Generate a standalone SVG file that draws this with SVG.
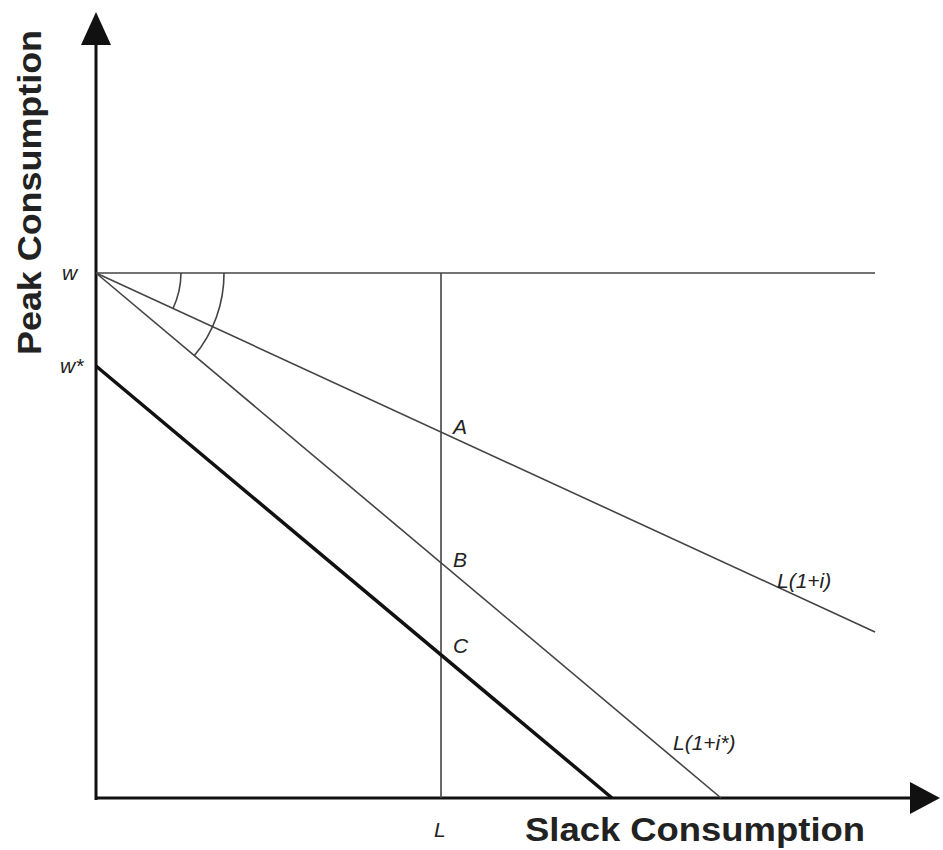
<svg xmlns="http://www.w3.org/2000/svg" width="943" height="850" viewBox="0 0 943 850">
<style>
.ax{stroke:#111;stroke-width:3;fill:none}
.thin{stroke:#444;stroke-width:1.6;fill:none}
.thick{stroke:#111;stroke-width:3.5;fill:none}
.lab{font-family:"Liberation Sans",Arial,sans-serif;font-style:italic;font-size:21px;fill:#222}
.title{font-family:"Liberation Sans",Arial,sans-serif;font-weight:bold;font-size:34px;fill:#222}
</style>
<rect width="943" height="850" fill="#fff"/>
<g id="connectors">
<line class="ax" x1="96" y1="40" x2="96" y2="800"/>
<polygon points="96,12 81,45 111,45" fill="#111"/>
<line class="ax" x1="95" y1="798" x2="912" y2="798"/>
<polygon points="940,798 910,782 910,814" fill="#111"/>
<line class="thin" x1="96" y1="273" x2="875" y2="273"/>
<line class="thin" x1="441" y1="273" x2="441" y2="798"/>
<line class="thin" x1="96" y1="273" x2="875" y2="632"/>
<line class="thin" x1="96" y1="273" x2="721" y2="798"/>
<line class="thick" x1="96" y1="366" x2="612" y2="798"/>
<path class="thin" d="M181,273 A85,85 0 0 1 173,308.5"/>
<path class="thin" d="M224,273 A128,128 0 0 1 194,356"/>
</g>
<g id="labels">
<text class="lab" x="62" y="280" font-size="18">w</text>
<text class="lab" x="60" y="373" font-size="18">w*</text>
<text class="lab" x="453" y="434">A</text>
<text class="lab" x="453" y="567">B</text>
<text class="lab" x="453" y="653">C</text>
<text class="lab" x="777" y="588">L(1+i)</text>
<text class="lab" x="673" y="750">L(1+i*)</text>
<text class="lab" x="434" y="837">L</text>
<text class="title" x="525" y="841" textLength="340" lengthAdjust="spacingAndGlyphs">Slack Consumption</text>
<text class="title" transform="translate(41,355) rotate(-90)" textLength="325" lengthAdjust="spacingAndGlyphs">Peak Consumption</text>
</g>
</svg>
